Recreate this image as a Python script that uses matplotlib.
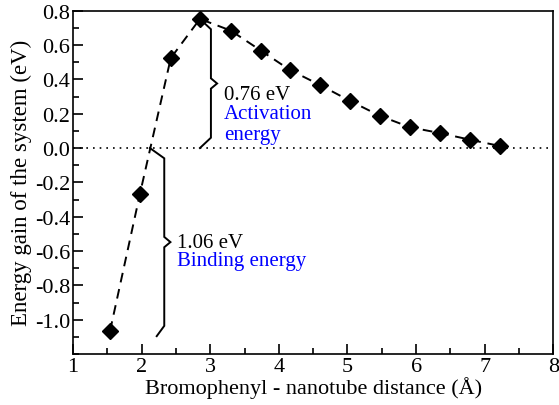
import numpy as np
import matplotlib.pyplot as plt
from matplotlib.ticker import MultipleLocator, FixedLocator, FuncFormatter

plt.rcParams['font.family'] = ['Liberation Serif', 'DejaVu Serif']

# distance (Angstrom) and energy gain (eV)
dist = [1.54, 1.975, 2.425, 2.85, 3.30, 3.74, 4.16, 4.60, 5.04, 5.47, 5.91, 6.35, 6.79, 7.22]
energy = [-1.065, -0.268, 0.524, 0.752, 0.684, 0.567, 0.455, 0.367, 0.274, 0.188, 0.121, 0.087, 0.048, 0.012]

act_label = ["0.76 eV", "Activation", "energy"]
bind_label = ["1.06 eV", "Binding energy"]


def brace(ax, x, y0, y1, x_start, x_end, tip=0.09, hook=0.06):
    # curly brace drawn as polyline, y0 top, y1 bottom
    ym = 0.5 * (y0 + y1)
    xs = [x_start, x, x, x + tip, x, x, x_end]
    ys = [y0, y0 - hook, ym + 0.03, ym, ym - 0.03, y1 + hook, y1]
    ax.plot(xs, ys, color='black', lw=1.4, solid_joinstyle='miter')


def fmt(v, pos):
    if abs(v) < 1e-9:
        return '0.0'
    return '%.1f' % v


fig = plt.figure(figsize=(5.59, 4.06), dpi=100)
ax = fig.add_axes([0.1306, 0.1256, 0.8592, 0.8456])

ax.axhline(0, color='black', lw=1.2, ls=(0, (1, 3)))
ax.plot(dist, energy, color='black', lw=1.4, ls=(0, (5, 3.5)),
        marker='D', ms=8.5, mfc='black', mec='black')

brace(ax, 3.01, 0.752, 0.0, 2.85, 2.85)
brace(ax, 2.33, 0.0, -1.096, 2.12, 2.22)

ax.text(3.2, 0.31, act_label[0], fontsize=15, va='center', color='black')
ax.text(3.2, 0.20, act_label[1], fontsize=15, va='center', color='#0000ff')
ax.text(3.2, 0.08, act_label[2], fontsize=15, va='center', color='#0000ff')
ax.text(2.52, -0.548, bind_label[0], fontsize=15, va='center', color='black')
ax.text(2.52, -0.655, bind_label[1], fontsize=15, va='center', color='#0000ff')

ax.set_xlim(1, 8)
ax.set_ylim(-1.2, 0.8)
ax.xaxis.set_major_locator(MultipleLocator(1))
ax.xaxis.set_minor_locator(MultipleLocator(0.5))
ax.yaxis.set_major_locator(FixedLocator(np.arange(-1.0, 0.81, 0.2)))
ax.yaxis.set_minor_locator(MultipleLocator(0.1))
ax.yaxis.set_major_formatter(FuncFormatter(fmt))
ax.tick_params(which='both', direction='in', top=False, right=False, labelsize=16, width=1.2)
ax.tick_params(which='major', length=7, pad=2)
ax.tick_params(which='minor', length=4)
for s in ax.spines.values():
    s.set_linewidth(1.2)

ax.set_xlabel("Bromophenyl - nanotube distance (Å)", fontsize=16, labelpad=0)
ax.set_ylabel("Energy gain of the system (eV)", fontsize=16.5, labelpad=2)

plt.savefig("out.png", dpi=100)
